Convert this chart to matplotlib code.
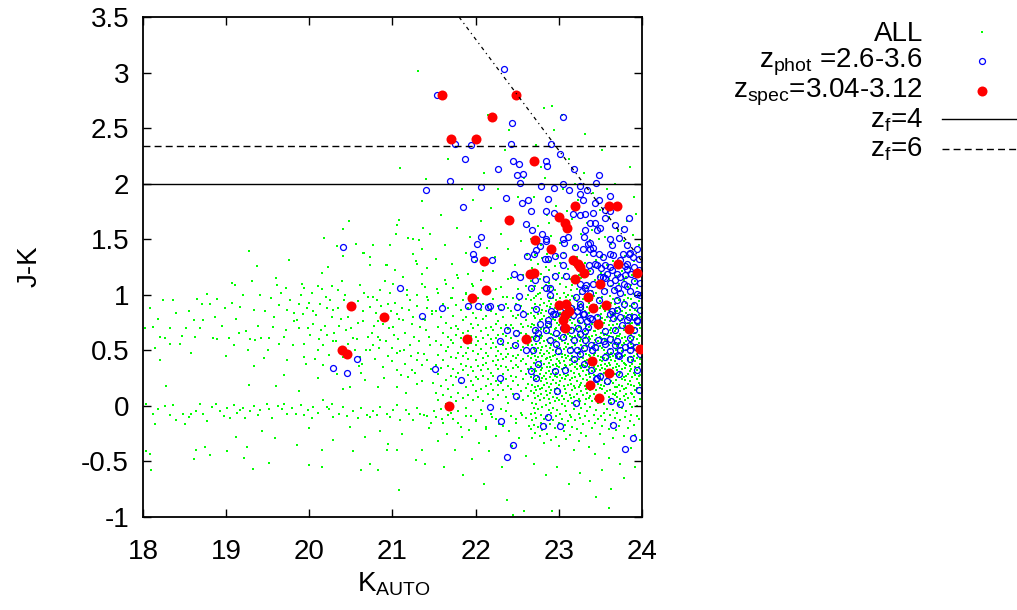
import numpy as np
import matplotlib
matplotlib.use("Agg")
import matplotlib.pyplot as plt
from matplotlib.lines import Line2D
from matplotlib.ticker import FormatStrFormatter

plt.rcParams.update({
    "font.family": ["Liberation Sans", "DejaVu Sans"],
    "font.size": 20,
    "mathtext.default": "regular",
})

# ---- z_spec = 3.04-3.12 (red filled) ----
SPEC_K = [21.60, 22.49, 22.20, 21.70, 22.00, 22.70, 23.20, 23.60, 23.70, 22.40,
          23.00, 23.08, 23.10, 22.71, 22.90, 22.10, 23.17, 23.23, 23.25, 23.30,
          23.71, 22.65, 22.70, 23.94, 23.20, 23.50, 22.13, 21.96, 23.35, 23.57,
          23.00, 23.09, 23.12, 23.41, 23.05, 23.08, 23.07, 23.47, 23.84, 23.97,
          21.90, 22.60, 23.40, 23.60, 23.38, 23.48, 21.68, 20.50, 20.90, 20.39, 20.45]
SPEC_JK = [2.80, 2.80, 2.60, 2.40, 2.40, 2.20, 1.80, 1.80, 1.80, 1.67,
           1.70, 1.65, 1.60, 1.49, 1.41, 1.30, 1.31, 1.28, 1.25, 1.20,
           1.28, 1.19, 1.20, 1.20, 1.14, 1.10, 1.04, 0.97, 0.98, 0.91,
           0.91, 0.92, 0.85, 0.88, 0.77, 0.82, 0.70, 0.74, 0.69, 0.51,
           0.60, 0.60, 0.40, 0.30, 0.19, 0.07, 0.00, 0.90, 0.80, 0.50, 0.47]

# ---- z_phot = 2.6-3.6 (blue open), (K, J-K) ----
PHOT_UPPER = [
    (22.34, 3.03), (21.54, 2.80), (22.44, 2.55), (23.05, 2.60), (21.75, 2.36), (21.94, 2.35),
    (22.43, 2.36), (22.90, 2.36), (23.01, 2.27), (21.87, 2.22), (22.27, 2.13), (22.45, 2.20),
    (22.52, 2.18), (22.85, 2.20), (22.86, 2.16), (23.18, 2.13), (22.50, 2.08), (22.57, 2.09),
    (22.53, 2.01), (23.48, 2.08), (23.45, 2.01), (21.69, 2.02), (21.40, 1.94), (22.06, 1.97),
    (22.79, 1.98), (22.94, 1.96), (23.05, 2.00), (23.12, 1.94), (23.25, 1.98), (23.25, 1.91),
    (23.34, 1.94), (23.62, 1.89), (22.37, 1.87), (21.85, 1.79), (22.56, 1.83), (22.63, 1.85),
    (22.87, 1.86), (23.29, 1.85), (23.43, 1.83), (23.48, 1.85), (22.66, 1.75), (22.85, 1.75),
    (22.94, 1.74), (23.17, 1.73), (23.26, 1.72), (23.31, 1.73), (23.41, 1.74), (23.55, 1.76),
    (23.62, 1.75), (23.84, 1.69), (23.56, 1.69), (23.67, 1.63), (23.38, 1.65), (23.43, 1.65),
    (22.61, 1.64), (23.32, 1.58), (23.46, 1.58), (23.50, 1.60), (23.78, 1.59), (22.07, 1.52),
    (22.02, 1.46), (22.68, 1.58), (22.80, 1.55), (22.85, 1.50), (22.84, 1.48), (23.05, 1.50),
    (23.06, 1.47), (23.11, 1.52), (23.20, 1.43), (23.30, 1.52), (23.35, 1.46), (23.38, 1.47),
    (23.41, 1.42), (23.62, 1.50), (23.64, 1.45), (23.72, 1.51), (23.82, 1.45), (23.94, 1.41),
    (21.97, 1.37), (21.98, 1.32), (22.20, 1.31), (22.62, 1.35), (22.73, 1.40), (22.77, 1.44),
    (22.87, 1.32), (22.95, 1.35), (23.29, 1.41), (23.37, 1.41), (23.48, 1.37), (23.53, 1.34),
    (23.65, 1.36), (23.77, 1.37), (23.84, 1.37), (23.89, 1.34), (23.74, 1.31), (23.96, 1.32),
    (23.05, 1.27), (23.36, 1.27), (23.46, 1.27), (23.56, 1.27), (23.80, 1.26), (23.90, 1.25),
    (22.83, 1.32), (22.70, 1.37), (23.05, 1.36), (23.41, 1.38), (23.61, 1.37), (23.86, 1.38),
    (23.43, 1.28), (23.62, 1.25), (23.82, 1.28),
]
PHOT_LOWER = [
    (23.51, 1.24), (23.58, 1.19), (23.64, 1.22), (23.70, 1.19), (23.82, 1.23), (23.87, 1.19),
    (23.96, 1.22), (22.71, 1.13), (22.85, 1.14), (22.95, 1.17), (23.09, 1.17), (22.67, 1.06),
    (22.89, 1.06), (22.89, 1.00), (22.53, 1.16), (22.46, 1.19), (23.33, 1.09), (23.31, 1.06),
    (23.41, 1.10), (23.50, 1.16), (23.56, 1.15), (23.62, 1.11), (23.68, 1.13), (23.74, 1.16),
    (23.78, 1.10), (23.82, 1.08), (23.90, 1.12), (23.98, 1.11), (23.28, 1.03), (23.38, 1.02),
    (23.54, 1.03), (23.66, 1.04), (23.73, 1.02), (23.86, 1.03), (23.98, 1.00), (22.52, 0.99),
    (21.59, 0.88), (21.91, 0.90), (22.03, 0.90), (22.15, 0.89), (22.17, 0.90), (22.30, 0.89),
    (22.50, 0.89), (22.57, 0.83), (22.73, 0.87), (22.87, 0.77), (22.87, 0.74), (22.77, 0.74),
    (22.91, 0.85), (22.95, 0.83), (23.26, 0.89), (23.22, 0.85), (23.30, 0.83), (23.25, 0.77),
    (23.34, 0.76), (23.40, 0.78), (23.46, 0.80), (23.64, 0.85), (23.70, 0.86), (23.74, 0.80),
    (23.82, 0.77), (23.90, 0.80), (23.94, 0.77), (23.98, 0.86), (22.38, 0.68), (22.49, 0.66),
    (22.71, 0.68), (22.75, 0.66), (22.97, 0.66), (23.05, 0.70), (23.15, 0.68), (23.25, 0.65),
    (22.29, 0.58), (22.47, 0.55), (22.61, 0.50), (22.97, 0.56), (23.18, 0.59), (23.22, 0.50),
    (23.30, 0.52), (23.40, 0.50), (23.43, 0.53), (23.54, 0.58), (23.62, 0.60), (23.68, 0.55),
    (23.74, 0.50), (23.86, 0.55), (23.93, 0.53), (23.18, 0.42), (23.30, 0.38), (23.56, 0.44),
    (23.72, 0.45), (23.85, 0.42), (23.98, 0.47), (22.75, 0.38), (22.95, 0.31), (23.07, 0.32),
    (22.67, 0.31), (22.73, 0.25), (22.29, 0.25), (21.82, 0.23), (21.51, 0.33), (23.46, 0.25),
    (23.50, 0.27), (23.72, 0.29), (23.94, 0.32), (23.96, 0.14), (22.49, 0.09), (22.98, 0.13),
    (23.21, 0.03), (23.63, 0.04), (23.74, 0.02), (22.17, -0.01), (22.87, -0.10), (22.30, -0.14),
    (22.81, -0.18), (23.01, -0.18), (23.65, -0.17), (23.89, -0.29), (23.80, -0.39), (22.45, -0.35),
    (22.38, -0.46), (23.39, 0.32), (23.45, 0.24), (23.58, 0.22),
    (23.37, 1.21), (23.53, 1.16), (23.80, 1.18), (23.25, 1.10), (23.71, 1.06), (23.94, 1.01),
    (22.85, 1.06), (23.21, 0.98), (23.25, 0.92), (23.48, 0.95), (23.70, 0.95), (23.78, 0.92),
    (23.90, 0.91), (22.93, 0.83), (23.01, 0.85), (23.15, 0.88), (23.17, 0.82), (23.29, 0.83),
    (23.37, 0.79), (23.61, 0.83), (23.65, 0.79), (23.84, 0.80), (23.94, 0.76), (22.85, 0.68),
    (23.23, 0.70), (23.31, 0.67), (23.35, 0.71), (23.55, 0.67), (23.67, 0.68), (23.76, 0.73),
    (23.90, 0.68), (22.73, 0.61), (22.89, 0.59), (23.05, 0.62), (23.31, 0.59), (23.39, 0.55),
    (23.47, 0.59), (23.55, 0.56), (23.70, 0.58), (23.80, 0.53), (23.86, 0.61), (22.69, 0.50),
    (22.99, 0.49), (23.13, 0.50), (23.25, 0.47), (23.61, 0.49), (23.71, 0.46), (23.86, 0.50),
]
PHOT_LEFT = [(21.09, 1.06), (21.35, 0.81), (20.57, 0.42), (20.29, 0.34), (20.45, 0.30), (20.41, 1.43)]

# ---- ALL (green dots), (K, J-K) ----
ALL_BRIGHT = [
    (19.27, 1.39), (19.37, 1.26), (20.15, 1.20), (20.22, 1.25), (20.41, 1.35), (20.65, 1.38),
    (20.73, 1.27), (20.93, 1.27), (21.03, 1.22), (21.13, 1.16), (21.29, 1.28), (21.41, 1.24),
    (21.25, 1.37), (19.07, 1.11), (19.11, 1.09), (19.31, 1.12), (19.60, 1.15), (19.61, 1.09),
    (19.72, 1.06), (19.91, 1.10), (19.93, 1.06), (20.03, 1.02), (20.15, 1.05), (20.27, 1.08),
    (20.34, 1.04), (20.39, 1.12), (20.61, 1.09), (20.77, 0.98), (20.85, 1.04), (21.01, 1.10),
    (21.17, 1.04), (21.29, 1.00), (21.39, 1.07), (18.24, 0.95), (18.65, 0.96), (18.71, 0.92),
    (18.77, 1.01), (18.89, 0.96), (18.40, 0.84), (18.61, 0.77), (18.72, 0.77), (18.87, 0.80),
    (19.07, 0.93), (18.99, 0.88), (19.17, 0.89), (19.34, 0.86), (19.41, 1.00), (19.54, 0.97),
    (19.63, 0.91), (19.73, 0.86), (19.82, 0.84), (19.85, 0.77), (19.92, 0.83), (19.97, 0.88),
    (20.05, 0.85), (20.13, 0.92), (20.21, 0.88), (20.27, 0.80), (20.35, 0.88), (20.42, 0.95),
    (20.59, 0.94), (20.65, 0.85), (20.73, 0.89), (20.81, 0.95), (20.83, 0.76), (20.95, 0.92),
    (21.01, 0.71), (21.05, 0.83), (21.13, 0.77), (21.21, 0.95), (21.25, 0.80), (21.33, 0.71),
    (21.42, 0.88), (21.39, 0.77), (18.02, 0.70), (18.12, 0.71), (18.20, 0.62), (18.26, 0.61),
    (18.32, 0.56), (18.44, 0.56), (18.52, 0.70), (18.63, 0.62), (18.84, 0.61), (18.89, 0.60),
    (19.03, 0.61), (19.09, 0.55), (19.15, 0.66), (19.24, 0.67), (19.29, 0.60), (19.35, 0.59),
    (19.42, 0.61), (19.52, 0.61), (19.56, 0.71), (19.64, 0.56), (19.72, 0.68), (19.81, 0.76),
    (19.93, 0.56), (19.94, 0.44), (20.01, 0.64), (20.11, 0.50), (20.16, 0.37), (20.21, 0.64),
    (20.28, 0.58), (20.52, 0.61), (20.61, 0.44), (20.63, 0.38), (20.73, 0.50), (20.77, 0.55),
    (20.85, 0.59), (20.95, 0.45), (20.99, 0.40), (21.05, 0.32), (21.09, 0.49), (21.15, 0.38),
    (21.19, 0.26), (21.23, 0.32), (21.29, 0.41), (21.36, 0.37), (21.41, 0.41), (18.20, 0.41),
    (19.33, 0.36), (19.45, 0.43), (19.73, 0.41), (20.11, 0.25), (20.33, 0.29), (20.49, 0.17),
    (20.67, 0.23), (20.83, 0.17), (21.05, 0.17), (21.29, 0.20), (18.28, 0.18), (19.27, 0.19),
    (19.60, 0.18), (19.88, 0.13),
    (21.31, 3.01), (21.09, 2.14), (21.40, 2.04), (21.35, 1.84), (20.48, 1.66), (20.41, 1.59),
    (21.08, 1.67), (21.06, 1.63), (20.18, 1.51), (21.04, 1.55), (21.19, 1.51), (21.25, 1.50),
    (21.37, 1.60), (21.32, 1.49), (21.36, 1.41), (19.75, 1.31), (20.33, 1.44), (20.56, 1.46),
    (20.66, 1.38), (20.77, 1.45), (20.73, 1.34), (20.97, 1.45), (20.92, 1.27), (21.28, 1.30),
    (20.82, 0.62), (20.88, 0.35), (20.91, 1.12), (20.96, 0.70), (21.00, 0.52), (21.03, 0.93),
    (21.07, 0.60), (21.10, 0.28), (21.12, 0.88), (21.15, 0.66), (21.18, 1.00), (21.21, 0.55),
    (21.24, 0.74), (21.27, 0.30), (21.30, 0.90), (21.32, 0.58), (21.35, 1.10), (21.38, 0.47),
    (21.40, 0.68), (21.43, 0.95), (21.46, 0.33), (21.22, 0.45), (21.05, 0.48), (20.98, 0.85),
    (20.86, 0.90), (20.78, 0.72), (20.70, 0.62), (20.66, 1.02), (20.58, 0.75), (20.55, 0.50),
    (20.47, 0.80), (20.44, 0.68), (20.38, 0.78), (20.30, 0.66), (20.25, 0.95), (20.19, 0.72),
    (20.12, 0.60), (20.08, 0.82), (19.98, 0.70), (19.88, 0.92),
    (18.08, 0.88), (18.15, 0.52), (18.18, 0.78), (18.33, 0.70), (18.36, 0.95), (18.47, 0.63),
    (18.55, 0.85), (18.58, 0.48), (18.68, 0.70), (18.80, 0.92), (18.95, 0.72), (19.00, 0.45),
    (19.12, 0.78), (19.20, 1.00), (19.26, 0.50), (19.38, 0.72), (19.47, 0.85), (19.50, 0.50),
    (19.58, 0.80), (19.66, 1.02), (19.69, 0.62), (19.77, 0.95), (19.80, 0.55), (19.87, 0.70),
    (19.90, 1.00), (19.96, 0.38), (20.00, 0.93), (20.04, 0.74), (20.07, 0.42), (20.10, 1.08),
    (20.14, 0.68), (20.17, 0.55), (20.20, 0.98), (20.24, 0.46), (20.29, 0.86), (20.32, 0.58),
    (20.36, 0.72), (20.40, 0.44), (20.43, 1.00), (20.46, 0.56), (20.50, 0.70), (20.53, 0.92),
    (20.57, 0.60), (20.60, 0.36), (20.64, 0.76), (20.68, 0.50), (20.71, 0.98), (20.75, 0.66),
    (20.79, 0.42), (20.80, 0.84), (20.84, 0.52), (20.89, 0.74), (20.92, 0.58), (20.97, 1.02),
    (21.02, 0.64), (21.08, 0.78), (21.14, 0.50), (21.20, 0.86), (21.26, 0.62), (21.31, 0.48),
    (21.37, 0.78), (21.44, 0.62), (21.47, 0.85), (20.62, 0.30), (20.90, 0.25), (21.16, 0.12),
    (21.35, 0.22), (19.70, 0.28), (20.40, 0.15),
]
ALL_STARS = [
    (18.04, 0.02), (18.12, -0.07), (18.14, -0.16), (18.26, 0.00), (18.32, -0.08), (18.40, -0.13),
    (18.48, -0.07), (18.51, -0.16), (18.58, -0.07), (18.64, -0.05), (18.72, -0.07), (18.77, -0.14),
    (18.83, -0.01), (18.88, 0.02), (18.93, -0.05), (19.01, -0.02), (19.05, -0.11), (19.13, -0.06),
    (19.17, -0.04), (19.23, -0.11), (19.29, -0.05), (19.34, 0.00), (19.41, -0.04), (19.43, -0.23),
    (19.49, 0.02), (19.55, -0.11), (19.62, 0.00), (19.67, -0.03), (19.69, 0.02), (19.79, -0.02),
    (19.84, -0.07), (19.93, -0.08), (20.03, -0.11), (20.05, -0.01), (20.16, 0.05), (20.21, -0.01),
    (20.27, 0.02), (20.29, -0.10), (20.36, -0.07), (20.41, -0.01), (20.49, -0.19), (20.53, -0.05),
    (20.59, -0.11), (20.69, -0.08), (20.73, -0.10), (20.81, -0.08), (20.85, -0.01), (20.93, -0.07),
    (21.01, -0.04), (21.09, -0.13), (21.16, -0.04), (21.25, -0.13), (21.33, -0.07), (21.42, -0.09),
    (20.85, -0.23), (20.29, -0.31), (18.04, -0.41), (18.08, -0.43), (18.10, -0.58), (18.64, -0.40),
    (18.61, -0.48), (18.75, -0.37), (18.81, -0.44), (19.01, -0.41), (19.12, -0.28), (19.21, -0.47),
    (19.25, -0.37), (19.32, -0.57), (19.51, -0.51), (19.59, -0.29), (19.99, -0.53), (20.15, -0.55),
    (20.15, -0.40), (20.53, -0.41), (20.62, -0.58), (20.73, -0.52), (20.82, -0.58), (20.93, -0.40),
    (20.94, -0.34), (21.05, -0.40), (21.28, -0.49), (21.35, -0.40), (21.39, -0.52), (21.08, -0.76),
    (18.18, -0.03), (18.36, 0.01), (18.55, -0.10), (18.69, 0.02), (18.97, -0.09), (19.09, 0.01),
    (19.20, -0.02), (19.38, -0.08), (19.52, -0.03), (19.73, -0.07), (19.90, 0.01), (19.98, -0.04),
    (20.10, -0.06), (20.24, -0.03), (20.45, -0.09), (20.62, -0.02), (20.77, -0.05), (20.97, -0.10),
    (21.05, 0.01), (21.20, -0.07), (21.29, -0.02), (21.46, -0.15), (20.00, -0.20), (20.67, -0.28),
    (21.12, -0.25), (19.85, -0.35),
]
ALL_MID = [
    (21.36, 1.19), (21.41, 0.98), (21.45, 0.55), (21.48, 0.83), (21.49, 0.21), (21.53, 1.05),
    (21.63, 1.13), (21.77, 1.18), (21.95, 1.10), (22.09, 1.21), (22.24, 1.05), (22.43, 1.15),
    (22.61, 1.08), (22.38, 0.98), (22.52, 0.95), (21.71, 0.97), (21.88, 1.02),
    (21.35, 1.41), (21.45, 1.55), (21.52, 1.32), (21.58, 1.72), (21.63, 1.45), (21.67, 2.22),
    (21.72, 1.28), (21.78, 1.60), (21.83, 1.95), (21.88, 1.38), (21.93, 1.52), (21.97, 1.85),
    (22.01, 1.30), (22.06, 1.66), (22.10, 2.10), (22.14, 1.42), (22.19, 1.78), (22.23, 1.34),
    (22.27, 1.95), (22.31, 1.55), (22.35, 2.30), (22.39, 1.41), (22.43, 1.70), (22.47, 1.27),
    (22.51, 1.88), (22.55, 1.48), (22.58, 2.05), (22.62, 1.36), (22.64, 1.62), (22.82, 2.68),
    (22.40, 2.48), (22.15, 2.62),
    (21.38, -0.08), (21.44, -0.20), (21.50, -0.05), (21.55, -0.32), (21.60, -0.12), (21.65, -0.25),
    (21.70, -0.06), (21.75, -0.40), (21.79, -0.15), (21.84, -0.28), (21.88, -0.09), (21.92, -0.22),
    (21.96, -0.48), (22.00, -0.13), (22.04, -0.33), (22.08, -0.07), (22.12, -0.19), (22.16, -0.41),
    (22.20, -0.10), (22.24, -0.27), (22.28, -0.16), (22.32, -0.55), (22.36, -0.05), (22.40, -0.23),
    (22.44, -0.36), (22.48, -0.12), (22.52, -0.29), (22.56, -0.08), (22.60, -0.45), (22.64, -0.18),
    (21.85, -0.62), (22.10, -0.70), (22.38, -0.85), (22.58, -0.95), (22.45, -0.98), (21.62, -0.55),
]
# K = 21.5-22.65: each entry is one K value and the J-K of the dots seen there
ALL_MID_COLS = [
    (21.52, [0.12, 0.58, 0.85, -0.10, 0.37]),
    (21.55, [0.71, 0.29, 1.02, 0.05, 0.46]),
    (21.58, [0.34, 0.80, -0.03, 0.55, 0.18]),
    (21.61, [0.92, 0.41, 0.10, 0.66, -0.15]),
    (21.64, [0.23, 0.75, 0.49, 1.10, 0.02]),
    (21.67, [0.62, 0.15, 0.88, 0.36, -0.08, 0.53]),
    (21.70, [0.44, 0.97, 0.08, 0.70, 0.27, 0.59]),
    (21.73, [0.81, 0.33, -0.12, 0.57, 0.19, 1.06]),
    (21.76, [0.26, 0.64, 0.91, 0.43, 0.04, 0.72]),
    (21.79, [0.69, 0.12, 0.48, 1.15, 0.30, -0.05]),
    (21.82, [0.38, 0.86, 0.21, 0.61, -0.19, 0.53]),
    (21.85, [0.77, 0.45, 0.07, 0.95, 0.32, 0.66]),
    (21.88, [0.17, 0.59, 1.01, 0.36, -0.02, 0.80, 0.48]),
    (21.91, [0.67, 0.28, 0.88, 0.10, 0.52, 0.42, 1.19]),
    (21.94, [0.35, 0.74, -0.09, 0.57, 0.22, 0.93, 0.63]),
    (21.97, [0.84, 0.19, 0.49, 1.08, 0.05, 0.70, 0.31]),
    (22.00, [0.26, 0.62, 0.41, -0.14, 0.79, 0.55, 0.13]),
    (22.03, [0.73, 0.36, 0.97, 0.08, 0.58, 0.24, 0.47]),
    (22.06, [0.15, 0.51, 0.86, 0.32, 1.13, -0.04, 0.67]),
    (22.09, [0.61, 0.43, 0.04, 0.78, 0.27, 0.92, 0.37]),
    (22.12, [0.39, 0.81, 0.18, 0.56, -0.21, 0.70, 0.48]),
    (22.15, [0.89, 0.24, 0.64, 0.11, 0.45, 1.04, 0.33]),
    (22.18, [0.30, 0.71, 0.52, -0.07, 0.85, 0.20, 0.60]),
    (22.21, [0.57, 0.14, 0.96, 0.40, 0.68, 0.27, 1.21, 0.06]),
    (22.24, [0.45, 0.83, 0.22, 0.61, -0.12, 0.37, 0.74, 0.53]),
    (22.27, [0.76, 0.33, 0.10, 0.90, 0.49, 0.19, 0.64, 0.41]),
    (22.30, [0.21, 0.58, 1.07, 0.36, 0.70, -0.03, 0.47, 0.86]),
    (22.33, [0.65, 0.42, 0.14, 0.80, 0.29, 0.98, 0.55, -0.18]),
    (22.36, [0.35, 0.73, 0.08, 0.51, 0.92, 0.24, 0.63, 0.44]),
    (22.39, [0.88, 0.47, 0.18, 0.69, 0.03, 0.57, 1.14, 0.32]),
    (22.42, [0.27, 0.61, 0.40, 0.85, -0.09, 0.73, 0.15, 0.52]),
    (22.45, [0.70, 0.34, 0.97, 0.11, 0.56, 0.45, 0.22, 0.81]),
    (22.48, [0.43, 0.79, 0.26, 0.63, -0.15, 0.92, 0.37, 0.54]),
    (22.51, [0.82, 0.19, 0.58, 0.35, 1.05, 0.07, 0.67, 0.46]),
    (22.54, [0.31, 0.66, 0.50, 0.90, 0.13, 0.74, -0.06, 0.40]),
    (22.57, [0.60, 0.24, 0.85, 0.42, 0.05, 0.71, 0.53, 1.18]),
    (22.60, [0.38, 0.77, 0.16, 0.58, 0.96, 0.29, -0.11, 0.65]),
    (22.63, [0.72, 0.45, 0.09, 0.83, 0.33, 0.55, 0.20, 1.00]),
]
# K = 22.65-24, same layout
ALL_FAINT_COLS = [
    (22.66, [0.43, 1.12, -0.07, 0.71, 0.26, 0.95, 0.58, -0.21, 0.13, 0.84, 0.35, 1.31]),
    (22.68, [0.19, 0.62, 1.05, -0.13, 0.47, 0.88, 0.03, 0.31, 1.24, 0.74, -0.29, 0.55]),
    (22.70, [0.81, 0.28, -0.02, 0.66, 1.17, 0.39, 0.12, 0.97, 0.51, -0.17, 0.23, 0.73]),
    (22.71, [0.07, 0.45, 0.92, 1.36, 0.33, 0.60, -0.24, 0.17, 0.79, 1.08, 0.49, -0.06]),
    (22.73, [0.56, 0.14, 0.87, 0.31, -0.11, 1.21, 0.68, 0.41, 0.02, 0.99, 0.24, 0.62]),
    (22.75, [1.01, 0.37, 0.09, 0.73, -0.19, 0.52, 0.26, 1.28, 0.83, 0.44, -0.03, 0.18]),
    (22.77, [0.29, 0.64, 1.14, 0.05, 0.48, 0.91, -0.27, 0.36, 0.77, 0.15, 0.57, 1.02]),
    (22.79, [0.61, 0.22, 0.84, -0.08, 0.40, 1.19, 0.11, 0.69, 0.32, 0.96, -0.15, 0.50]),
    (22.80, [0.16, 0.53, 0.78, 1.06, 0.34, -0.01, 0.63, 0.25, 1.33, 0.45, -0.22, 0.86]),
    (22.82, [0.93, 0.38, 0.07, 0.58, -0.12, 0.81, 0.27, 1.16, 0.47, 0.19, 0.70, -0.33]),
    (22.84, [0.24, 0.67, 1.09, 0.42, 0.01, 0.85, 0.54, -0.18, 0.30, 0.76, 1.25, 0.13]),
    (22.86, [0.49, 0.10, 0.72, 1.37, 0.35, -0.09, 0.59, 0.90, 0.21, 1.03, 0.43, -0.25]),
    (22.88, [0.80, 0.31, -0.04, 0.57, 1.11, 0.17, 0.66, 0.39, 0.94, 0.06, 0.48, 1.22]),
    (22.89, [0.12, 0.52, 0.89, 0.26, -0.16, 0.74, 1.30, 0.44, 0.03, 0.61, 0.35, 0.98]),
    (22.91, [0.65, 0.20, 1.07, 0.41, -0.06, 0.83, 0.29, 0.55, -0.31, 0.92, 0.14, 0.71]),
    (22.93, [0.37, 0.78, 0.08, 1.18, 0.50, 0.23, -0.13, 0.64, 0.97, 0.32, 0.45, -0.02]),
    (22.95, [0.88, 0.46, 0.15, 0.69, -0.20, 1.04, 0.33, 0.59, 0.04, 0.77, 1.26, 0.27]),
    (22.97, [0.21, 0.58, 0.95, 0.38, -0.09, 0.70, 0.11, 1.13, 0.49, 0.82, -0.28, 0.30]),
    (22.98, [0.54, 0.16, 0.75, 1.01, 0.42, -0.04, 0.87, 0.26, 0.63, 1.35, 0.07, 0.36]),
    (23.00, [0.73, 0.35, 0.05, 0.90, 0.47, -0.15, 0.61, 1.20, 0.19, 0.81, 0.40, -0.36]),
    (23.02, [0.28, 0.66, 1.10, 0.13, 0.52, 0.84, -0.07, 0.39, 0.97, 0.22, 0.60, 1.29]),
    (23.04, [0.47, 0.09, 0.79, 0.33, 1.15, -0.12, 0.58, 0.25, 0.92, 0.44, 0.02, 0.68]),
    (23.06, [0.85, 0.40, 0.18, 0.62, -0.23, 1.02, 0.29, 0.74, 0.06, 0.51, 1.38, 0.34]),
    (23.07, [0.15, 0.57, 0.93, 0.37, 0.00, 0.71, 1.19, 0.46, -0.17, 0.82, 0.24, 0.64]),
    (23.09, [0.60, 0.27, 0.83, 1.07, 0.43, -0.05, 0.68, 0.12, 0.98, 0.36, 0.53, -0.30]),
    (23.11, [0.32, 0.72, 0.04, 0.56, 1.23, 0.19, 0.88, 0.45, -0.14, 0.65, 0.28, 1.00]),
    (23.13, [0.77, 0.41, 0.10, 0.95, 0.52, -0.08, 0.63, 1.14, 0.23, 0.86, 0.37, -0.26]),
    (23.15, [0.20, 0.59, 1.04, 0.31, -0.10, 0.80, 0.48, 1.32, 0.07, 0.69, 0.42, 0.91]),
    (23.16, [0.53, 0.14, 0.75, 0.38, 0.99, -0.19, 0.62, 0.25, 1.09, 0.45, 0.03, 0.84]),
    (23.18, [0.89, 0.44, 0.08, 0.67, 1.27, 0.30, -0.03, 0.57, 0.18, 0.78, 0.50, -0.40]),
    (23.20, [0.26, 0.63, 0.97, 0.40, 0.01, 0.73, 1.12, 0.35, -0.13, 0.55, 0.16, 0.86]),
    (23.22, [0.69, 0.33, 0.11, 0.82, 0.48, -0.21, 1.05, 0.59, 0.22, 0.94, 0.38, 1.34]),
    (23.24, [0.42, 0.06, 0.76, 1.18, 0.29, 0.64, -0.07, 0.51, 0.90, 0.17, 0.71, -0.32]),
    (23.25, [0.83, 0.47, 0.19, 0.58, 1.01, -0.11, 0.36, 0.75, 0.04, 0.62, 1.22, 0.27]),
    (23.27, [0.13, 0.55, 0.92, 0.34, 0.70, -0.02, 1.15, 0.44, 0.21, 0.81, 0.60, -0.24]),
    (23.29, [0.58, 0.24, 0.87, 0.43, -0.16, 0.66, 1.08, 0.31, 0.10, 0.96, 0.52, 0.37]),
    (23.31, [0.36, 0.74, 0.02, 0.61, 1.29, 0.18, 0.49, 0.85, -0.09, 0.40, 0.67, 1.03]),
    (23.33, [0.80, 0.39, 0.15, 0.97, 0.56, -0.27, 0.72, 0.28, 1.17, 0.47, 0.06, 0.63]),
    (23.34, [0.23, 0.65, 1.06, 0.32, 0.89, -0.05, 0.54, 0.12, 0.78, 0.41, 1.36, 0.20]),
    (23.36, [0.62, 0.29, 0.84, 0.46, 0.07, 0.71, -0.14, 1.10, 0.35, 0.58, 0.93, -0.37]),
    (23.38, [0.45, 0.09, 0.76, 1.21, 0.37, 0.60, -0.01, 0.88, 0.26, 0.68, 0.50, 0.14]),
    (23.40, [0.86, 0.42, 0.17, 0.63, 1.03, -0.20, 0.53, 0.31, 0.95, 0.04, 0.74, 0.39]),
    (23.42, [0.18, 0.57, 0.99, 0.35, 0.79, -0.08, 1.25, 0.46, 0.11, 0.67, 0.28, 0.90]),
    (23.43, [0.67, 0.31, 0.06, 0.85, 0.48, 1.13, -0.15, 0.59, 0.22, 0.74, 0.41, -0.43]),
    (23.45, [0.39, 0.76, 1.02, 0.14, 0.55, 0.27, 0.91, -0.04, 0.64, 0.33, 1.31, 0.08]),
    (23.47, [0.81, 0.45, 0.20, 0.69, -0.12, 0.97, 0.36, 0.58, 1.16, 0.03, 0.50, 0.73]),
    (23.49, [0.27, 0.62, 0.88, 0.41, 0.10, 1.07, 0.54, -0.25, 0.77, 0.32, 0.16, 0.94]),
    (23.51, [0.57, 0.19, 0.83, 0.37, 1.20, 0.05, 0.66, 0.44, -0.09, 0.90, 0.29, 0.61]),
    (23.52, [0.34, 0.71, 0.09, 0.52, 0.98, -0.18, 0.40, 0.79, 0.23, 1.34, 0.60, 0.15]),
    (23.54, [0.75, 0.43, 0.02, 0.64, 1.11, 0.30, -0.06, 0.87, 0.50, 0.18, 0.69, -0.34]),
    (23.56, [0.21, 0.59, 0.93, 0.38, 0.77, 0.12, 1.19, 0.47, -0.13, 0.65, 0.33, 0.85]),
    (23.58, [0.64, 0.25, 0.80, 0.48, -0.03, 1.04, 0.36, 0.58, 0.13, 0.91, 0.42, 1.27]),
    (23.60, [0.46, 0.08, 0.73, 0.31, 1.14, 0.55, -0.21, 0.86, 0.20, 0.63, 0.39, -0.47]),
    (23.61, [0.87, 0.37, 0.14, 0.68, 0.99, 0.26, -0.08, 0.51, 1.22, 0.44, 0.05, 0.76]),
    (23.63, [0.30, 0.66, 1.08, 0.41, 0.03, 0.82, 0.57, -0.16, 0.93, 0.22, 0.70, 0.48]),
    (23.65, [0.59, 0.21, 0.84, 0.45, 1.30, -0.04, 0.62, 0.34, 0.96, 0.11, 0.73, -0.29]),
    (23.67, [0.40, 0.78, 0.10, 0.56, 0.92, 0.29, 1.05, -0.11, 0.67, 0.47, 0.17, 0.83]),
    (23.69, [0.79, 0.35, 0.04, 0.69, 0.50, 1.17, 0.23, -0.22, 0.88, 0.43, 0.61, 0.12]),
    (23.70, [0.17, 0.54, 0.97, 0.32, 0.74, -0.06, 0.63, 1.26, 0.44, 0.08, 0.85, 0.38]),
    (23.72, [0.63, 0.28, 0.89, 0.48, 0.01, 0.71, 1.10, 0.36, -0.18, 0.57, 0.19, 0.95]),
    (23.74, [0.44, 0.13, 0.76, 1.03, 0.52, -0.13, 0.65, 0.30, 0.87, 0.06, 0.70, -0.52]),
    (23.76, [0.85, 0.40, 0.18, 0.61, 1.21, 0.33, -0.02, 0.78, 0.49, 0.24, 0.92, 0.55]),
    (23.78, [0.26, 0.68, 0.95, 0.39, 0.09, 0.81, 0.57, -0.27, 1.13, 0.45, 0.15, 0.72]),
    (23.79, [0.71, 0.34, 0.05, 0.88, 0.46, 1.00, 0.23, 0.62, -0.10, 0.80, 0.38, 1.35]),
    (23.81, [0.37, 0.79, 0.16, 0.58, 1.16, 0.27, 0.69, -0.05, 0.93, 0.50, 0.11, 0.84]),
    (23.83, [0.82, 0.43, 0.07, 0.66, 0.29, 1.07, -0.20, 0.54, 0.20, 0.75, 0.97, 0.41]),
    (23.85, [0.22, 0.61, 0.90, 0.36, 0.74, 0.02, 1.24, 0.48, -0.14, 0.68, 0.31, 0.86]),
    (23.87, [0.56, 0.19, 0.81, 0.44, 1.09, -0.08, 0.64, 0.33, 0.96, 0.12, 0.71, -0.38]),
    (23.88, [0.41, 0.75, 0.11, 0.53, 0.89, 0.26, 1.18, -0.01, 0.67, 0.38, 0.59, 0.83]),
    (23.90, [0.77, 0.30, 0.08, 0.62, 1.01, 0.45, -0.17, 0.70, 0.18, 0.92, 0.51, 1.30]),
    (23.92, [0.28, 0.66, 0.99, 0.40, 0.14, 0.78, 0.55, -0.26, 0.86, 0.35, 1.12, 0.04]),
    (23.94, [0.60, 0.24, 0.85, 0.47, 1.06, 0.00, 0.69, 0.32, -0.09, 0.73, 0.43, 0.16]),
    (23.96, [0.35, 0.73, 0.12, 0.57, 0.94, 0.27, 1.21, -0.12, 0.64, 0.49, 0.82, 0.21]),
    (23.98, [0.70, 0.38, 0.06, 0.80, 0.51, 1.02, 0.19, -0.31, 0.63, 0.42, 0.88, 0.28]),
]
ALL_FAINT_EDGE = [
    (22.66, 1.50), (22.70, 1.88), (22.72, 2.35), (22.75, 1.62), (22.79, 1.45), (22.83, 2.05),
    (22.86, 1.72), (22.90, 1.53), (22.94, 2.48), (22.97, 1.80), (23.01, 1.47), (23.05, 1.95),
    (23.08, 1.58), (23.12, 2.22), (23.16, 1.68), (23.19, 1.44), (23.23, 1.85), (23.27, 1.55),
    (23.30, 2.10), (23.34, 1.65), (23.38, 1.49), (23.41, 1.92), (23.45, 1.61), (23.49, 1.76),
    (23.52, 2.30), (23.56, 1.52), (23.60, 1.70), (23.63, 1.46), (23.67, 2.00), (23.71, 1.57),
    (23.74, 1.82), (23.78, 1.48), (23.82, 1.66), (23.85, 2.15), (23.89, 1.54), (23.93, 1.73),
    (23.96, 1.45), (22.92, 2.70), (23.04, 2.62), (23.32, 2.45), (22.78, 2.15), (23.10, 1.75),
    (23.40, 1.58), (23.58, 1.95), (23.76, 1.60), (23.90, 1.88), (22.88, 1.65), (23.20, 2.00),
    (23.48, 1.50), (23.66, 1.78),
    (22.70, -0.52), (22.85, -0.62), (22.98, -0.55), (23.12, -0.70), (23.25, -0.60), (23.38, -0.68),
    (23.52, -0.58), (23.63, -0.75), (23.78, -0.65), (23.92, -0.55), (23.45, -0.82), (22.92, -0.95),
    (23.60, -0.92),
]

# colour-selection lines
ZF4_JK = 2.0
ZF6_JK = 2.34
JLIM_K = [21.8, 24.0]
JLIM_JK = [3.5, 1.3]

all_pts = list(ALL_BRIGHT) + list(ALL_STARS) + list(ALL_MID) + list(ALL_FAINT_EDGE)
for k, jks in ALL_MID_COLS + ALL_FAINT_COLS:
    all_pts += [(k, v) for v in jks]
all_k, all_jk = np.array(all_pts).T
phot_k, phot_jk = np.array(PHOT_UPPER + PHOT_LOWER + PHOT_LEFT).T

fig = plt.figure(figsize=(10.17, 6.1), dpi=100)
ax = fig.add_axes([143 / 1017, 93 / 610, 499 / 1017, 500 / 610])

green, blue, red = "#00ff00", "#0000ff", "#ff0000"
ax.plot(all_k, all_jk, ls="none", marker="s", ms=1.44, mew=0, color=green,
        antialiased=False, zorder=1)
ax.plot(phot_k, phot_jk, ls="none", marker="o", ms=4.3, mfc="none", mec=blue, mew=0.9, zorder=2)
ax.plot(SPEC_K, SPEC_JK, ls="none", marker="o", ms=7.2, mew=0, color=red, zorder=3)
ax.axhline(ZF4_JK, color="black", lw=1.0, zorder=4)
ax.axhline(ZF6_JK, color="black", lw=1.0, ls=(0, (5, 3)), zorder=4)
ax.plot(JLIM_K, JLIM_JK, color="black", lw=0.9, ls=(0, (3, 3, 1, 3)), zorder=4)

ax.set_xlim(18, 24); ax.set_ylim(-1, 3.5)
ax.set_xticks(np.arange(18, 24.1, 1)); ax.set_yticks(np.arange(-1, 3.51, 0.5))
ax.xaxis.set_major_formatter(FormatStrFormatter("%g"))
ax.yaxis.set_major_formatter(FormatStrFormatter("%g"))
ax.tick_params(direction="in", length=6, width=1, top=True, right=True, labelsize=20)
ax.tick_params(axis="y", pad=10)
ax.tick_params(axis="x", pad=16)
for s in ax.spines.values():
    s.set_linewidth(1.3)

fig.text(30 / 1017, 1 - 266 / 610, "J-K", rotation=90, ha="center", va="center", fontsize=20)
fig.text(394 / 1017, 1 - 592 / 610, "K$_{AUTO}$", ha="center", va="baseline", fontsize=20)

# gnuplot-style key: text right-aligned, sample to the right
tx, mx, lx0, lx1 = 923 / 1017, 982 / 1017, 942 / 1017, 1.0
key = [
    ("ALL", 41, 32, dict(ls="none", marker="s", ms=1.44, mew=0, color=green, antialiased=False)),
    ("z$_{phot}$ =2.6-3.6", 68, 61, dict(ls="none", marker="o", ms=4.3, mfc="none", mec=blue, mew=0.9)),
    ("z$_{spec}$=3.04-3.12", 97.5, 91, dict(ls="none", marker="o", ms=7.2, mew=0, color=red)),
    ("z$_f$=4", 127.5, 119, dict(color="black", lw=1.0)),
    ("z$_f$=6", 156.5, 149, dict(color="black", lw=1.0, ls=(0, (5, 3)))),
]
for label, yb, ym, style in key:
    fig.text(tx, 1 - yb / 610, label, ha="right", va="baseline", fontsize=20)
    if style.get("ls") == "none":
        xs = [mx]
    else:
        xs = [lx0, lx1]
    fig.add_artist(Line2D(xs, [1 - ym / 610] * len(xs), transform=fig.transFigure, **style))

fig.savefig("out.png", dpi=100)
